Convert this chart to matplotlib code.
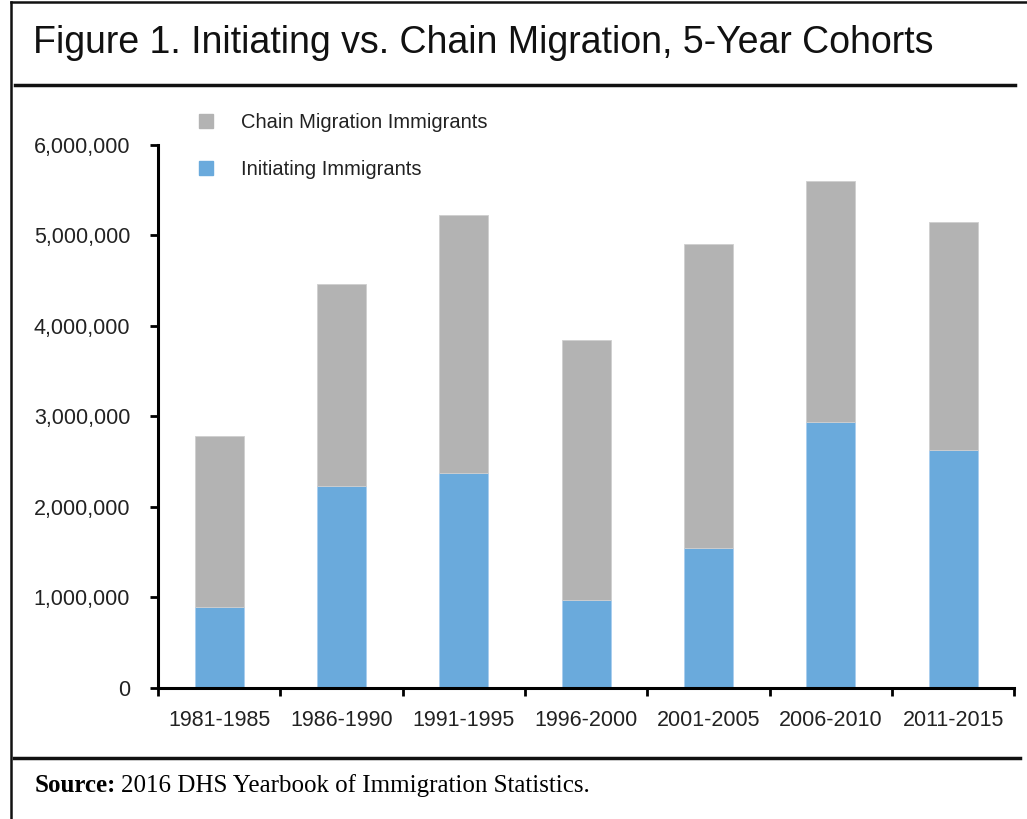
import matplotlib.pyplot as plt
import matplotlib.font_manager as fm
from matplotlib.patches import Patch
from matplotlib.lines import Line2D
import numpy as np

cohorts = ['1981-1985', '1986-1990', '1991-1995', '1996-2000',
           '2001-2005', '2006-2010', '2011-2015']
initiating = [895000, 2232000, 2376000, 972000, 1547000, 2939000, 2630000]
total = [2785000, 4464000, 5227000, 3845000, 4906000, 5602000, 5149000]
chain = [t - i for t, i in zip(total, initiating)]

gray = '#b3b3b3'
blue = '#6aaadc'

names = set(f.name for f in fm.fontManager.ttflist)
title_font = 'Liberation Sans Narrow' if 'Liberation Sans Narrow' in names else 'Liberation Sans'
plt.rcParams['font.family'] = ['Liberation Sans', 'DejaVu Sans']

fig = plt.figure(figsize=(10.27, 8.19), dpi=100)
ax = fig.add_axes([0.1538, 0.160, 0.834, 0.663])

x = np.arange(len(cohorts))
ax.bar(x, initiating, width=0.4, color=blue, edgecolor='#a9cdef', linewidth=0.6)
ax.bar(x, chain, width=0.4, bottom=initiating, color=gray, edgecolor='#cfcfcf', linewidth=0.6)

ax.set_xlim(-0.5, len(cohorts) - 0.5)
ax.set_ylim(0, 6000000)
ax.set_yticks(np.arange(0, 6000001, 1000000))
ax.set_yticklabels(['{:,}'.format(v) for v in range(0, 6000001, 1000000)])
ax.set_xticks(np.arange(-0.5, len(cohorts)), minor=False)
ax.set_xticklabels([])
ax.set_xticks(x, minor=True)
ax.set_xticklabels(cohorts, minor=True)
ax.tick_params(axis='x', which='major', length=6, width=2, direction='out')
ax.tick_params(axis='x', which='minor', length=0, pad=16, labelsize=15.5, labelcolor='#222222')
ax.tick_params(axis='y', length=6, width=2, direction='out', pad=14, labelsize=15.5, labelcolor='#222222')
for s in ['top', 'right']:
    ax.spines[s].set_visible(False)
for s in ['left', 'bottom']:
    ax.spines[s].set_linewidth(2.2)

handles = [Patch(color=gray), Patch(color=blue)]
leg = fig.legend(handles, ['Chain Migration Immigrants', 'Initiating Immigrants'],
                 loc='upper left', bbox_to_anchor=(0.176, 0.884), frameon=False,
                 fontsize=14.5, handlelength=0.7, handleheight=0.7,
                 handletextpad=1.4, labelspacing=1.4, labelcolor='#222222')

fig.text(0.032, 0.948, 'Figure 1. Initiating vs. Chain Migration, 5-Year Cohorts',
         fontsize=27, family=title_font, va='center', ha='left', color='#111111')

src_bold = fig.text(0.034, 0.041, 'Source:', family='Liberation Serif', fontweight='bold',
                    fontsize=18, va='center', ha='left')
fig.canvas.draw()
bb = src_bold.get_window_extent(fig.canvas.get_renderer())
x_next = (bb.x1 + 5) / fig.bbox.width
fig.text(x_next, 0.041, '2016 DHS Yearbook of Immigration Statistics.',
         family='Liberation Serif', fontsize=18, va='center', ha='left')

fig.add_artist(Line2D([0.015, 0.988], [0.896, 0.896], color='#111111', lw=2.5))
fig.add_artist(Line2D([0.014, 0.993], [0.075, 0.075], color='#111111', lw=2.5))
fig.add_artist(Line2D([0.0105, 0.0105], [0.0, 0.998], color='#111111', lw=1.8))
fig.add_artist(Line2D([0.0105, 1.0], [0.998, 0.998], color='#111111', lw=1.8))

fig.savefig('out.png', dpi=100)
